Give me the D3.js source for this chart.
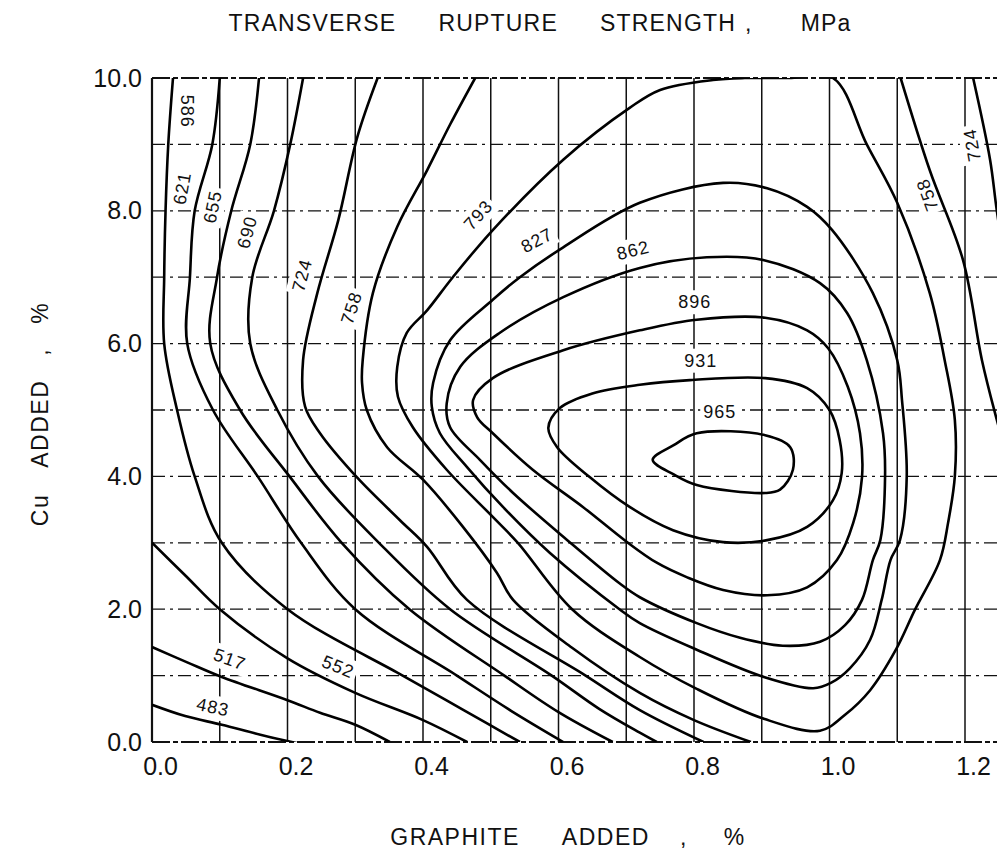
<!DOCTYPE html>
<html>
<head>
<meta charset="utf-8">
<script src="https://cdn.jsdelivr.net/npm/d3@7"></script>
<style>
  html, body { margin: 0; padding: 0; background: #fff; }
  svg { display: block; }
</style>
</head>
<body>
<div id="chart"></div>
<script>
// iso-strength lines, [graphite %, Cu %]
const c483 = [[0, 0.56], [0.049, 0.39], [0.103, 0.26], [0.16, 0.11], [0.215, -0.02]];
const c517 = [[0, 1.43], [0.052, 1.2], [0.103, 0.98], [0.2, 0.63], [0.248, 0.44], [0.3, 0.26], [0.351, 0]];
const c552 = [[0, 3.0], [0.05, 2.5], [0.1, 2.0], [0.2, 1.26], [0.3, 0.74], [0.4, 0.33], [0.465, 0]];
const c586 = [[0.031, 10], [0.024, 9], [0.02, 8], [0.018, 7], [0.018, 6], [0.037, 5], [0.063, 4], [0.103, 3], [0.2, 2], [0.37, 1], [0.46, 0.48], [0.543, 0]];
const c621 = [[0.1, 10], [0.089, 9], [0.063, 8], [0.056, 7], [0.052, 6], [0.09, 5], [0.156, 4], [0.22, 3], [0.3, 2], [0.45, 1], [0.53, 0.47], [0.607, 0]];
const c655 = [[0.158, 10], [0.145, 9], [0.117, 8], [0.096, 7], [0.086, 6], [0.13, 5], [0.203, 4], [0.28, 3], [0.38, 2], [0.52, 1], [0.6, 0.45], [0.68, 0]];
const c690 = [[0.223, 10], [0.204, 9], [0.18, 8], [0.148, 7], [0.145, 6], [0.185, 5], [0.245, 4], [0.335, 3], [0.44, 2], [0.59, 1], [0.66, 0.5], [0.72, 0.14], [0.745, 0]];
const c724 = [[0.333, 10], [0.303, 9.11], [0.275, 7.86], [0.244, 6.76], [0.223, 5.75], [0.226, 5.05], [0.248, 4.65], [0.303, 3.98], [0.366, 3.34], [0.406, 2.94], [0.465, 2.14], [0.64, 1], [0.72, 0.48], [0.814, 0]];
const c758 = [[0.477, 10], [0.44, 9.3], [0.406, 8.61], [0.362, 7.76], [0.326, 6.76], [0.311, 5.75], [0.31, 5.41], [0.317, 5.0], [0.347, 4.44], [0.4, 3.95], [0.459, 3.24], [0.509, 2.55], [0.533, 2.14], [0.62, 1.42], [0.72, 0.74], [0.8, 0.33], [0.884, 0]];
const c758r = [[1.105, 10], [1.148, 8.61], [1.197, 7.26], [1.225, 5.75], [1.247, 4.85], [1.27, 4.0]];
const c724r = [[1.212, 10], [1.237, 8.77], [1.247, 8.0], [1.27, 6.5]];
// closed loops round the peak
const c793 = [[0.875, 10], [0.828, 9.97], [0.75, 9.82], [0.705, 9.55], [0.607, 8.77], [0.503, 7.71], [0.444, 7.0], [0.406, 6.5], [0.376, 6.16], [0.362, 5.65], [0.363, 5.2], [0.385, 4.74], [0.435, 4.1], [0.503, 3.39], [0.54, 3.0], [0.62, 2.0], [0.72, 1.28], [0.804, 0.8], [0.903, 0.35], [0.986, 0.17], [1.023, 0.41], [1.06, 0.78], [1.098, 1.39], [1.126, 1.99], [1.163, 2.74], [1.175, 3.3], [1.185, 4.0], [1.185, 4.85], [1.17, 5.75], [1.148, 6.76], [1.1, 8.12], [1.055, 9.0], [1.005, 10.0], [0.94, 10]];
const c827 = [[0.72, 8.12], [0.843, 8.42], [0.908, 8.34], [0.967, 8.06], [1.004, 7.71], [1.064, 6.76], [1.1, 5.75], [1.107, 5.15], [1.114, 4.0], [1.104, 3.04], [1.09, 2.74], [1.077, 2.14], [1.06, 1.54], [1.03, 1.11], [1.002, 0.89], [0.976, 0.81], [0.903, 0.98], [0.804, 1.39], [0.72, 1.79], [0.69, 2.0], [0.587, 2.85], [0.518, 3.54], [0.465, 4.14], [0.425, 4.65], [0.413, 5.05], [0.415, 5.41], [0.44, 6.05], [0.503, 6.66], [0.543, 7.0], [0.607, 7.45]];
const c862 = [[0.72, 7.14], [0.819, 7.3], [0.902, 7.26], [0.986, 6.91], [1.026, 6.46], [1.055, 5.75], [1.079, 4.65], [1.082, 3.99], [1.075, 3.04], [1.064, 2.74], [1.048, 2.14], [1.023, 1.76], [0.986, 1.51], [0.931, 1.45], [0.868, 1.57], [0.804, 1.79], [0.72, 2.18], [0.69, 2.39], [0.613, 3.04], [0.533, 3.75], [0.484, 4.25], [0.44, 4.74], [0.435, 5.1], [0.455, 5.65], [0.513, 6.16], [0.607, 6.7]];
const c896 = [[0.72, 6.2], [0.804, 6.36], [0.905, 6.39], [0.967, 6.2], [0.998, 5.93], [1.027, 5.35], [1.045, 4.65], [1.048, 3.99], [1.035, 3.3], [1.011, 2.74], [0.967, 2.33], [0.908, 2.21], [0.843, 2.29], [0.79, 2.48], [0.745, 2.7], [0.7, 3.02], [0.636, 3.54], [0.562, 4.1], [0.503, 4.65], [0.48, 4.89], [0.474, 5.15], [0.503, 5.48], [0.607, 5.9]];
const c931 = [[0.72, 5.38], [0.794, 5.45], [0.905, 5.48], [0.967, 5.33], [1.0, 5.0], [1.015, 4.55], [1.018, 4.05], [1.005, 3.64], [0.967, 3.24], [0.908, 3.04], [0.843, 3.01], [0.769, 3.19], [0.705, 3.54], [0.646, 3.99], [0.598, 4.44], [0.585, 4.73], [0.602, 5.03], [0.65, 5.25]];
const c965 = [[0.739, 4.25], [0.77, 4.47], [0.804, 4.65], [0.905, 4.62], [0.942, 4.44], [0.946, 4.1], [0.927, 3.8], [0.905, 3.75], [0.804, 3.87], [0.77, 4.03]];

const openLines = [c483, c517, c552, c586, c621, c655, c690, c724, c758, c758r, c724r];
const closedLines = [c793, c827, c862, c896, c931, c965];

const labelText = ['586', '621', '655', '690', '724', '758', '793', '827', '862', '896', '931', '965', '758', '724', '552', '517', '483'];
const labelAt = [[0.053, 9.5], [0.044, 8.34], [0.089, 8.06], [0.14, 7.68], [0.221, 7.03], [0.294, 6.54], [0.481, 7.94], [0.568, 7.56], [0.71, 7.41], [0.801, 6.63], [0.81, 5.75], [0.838, 4.98], [1.144, 8.24], [1.21, 8.99], [0.275, 1.14], [0.115, 1.25], [0.09, 0.53]];
const labelTurn = [90, -80, -78, -75, -75, -72, -48, -28, -14, 0, 0, 0, -110, -100, 22, 20, 12];

const xTicks = [0, 0.2, 0.4, 0.6, 0.8, 1.0, 1.2];
const yTicks = [0, 2, 4, 6, 8, 10];
const xGrid = d3.range(0, 1.26, 0.1);
const yGrid = d3.range(0, 11, 1);

const titleWords = ['TRANSVERSE', 'RUPTURE', 'STRENGTH', ',', 'MPa'];
const titleGaps = [0, 42, 42, 9, 48];
const xTitleWords = ['GRAPHITE', 'ADDED', ',', '%'];
const xTitleGaps = [0, 42, 30, 36];

const W = 997, H = 852;
const FONT = '"Liberation Sans", Arial, sans-serif';

const x = d3.scaleLinear().domain([0, 1.2]).range([152, 965]);
const y = d3.scaleLinear().domain([0, 10]).range([742, 78]);
const xMax = 1.25;

const svg = d3.select('#chart').append('svg').attr('width', W).attr('height', H).style('background', '#fff');

svg.append('clipPath').attr('id', 'plot')
  .append('rect')
  .attr('x', x(0)).attr('y', y(10))
  .attr('width', x(xMax) - x(0)).attr('height', y(0) - y(10));

const gGrid = svg.append('g');
const gMask = svg.append('g');
const gLines = svg.append('g').attr('clip-path', 'url(#plot)');
const gLabels = svg.append('g');

// grid: solid verticals, dash-dot horizontals
gGrid.selectAll('line.v')
  .data(xGrid)
  .join('line')
  .attr('class', 'v')
  .attr('x1', (d) => x(d)).attr('x2', (d) => x(d))
  .attr('y1', y(10)).attr('y2', y(0))
  .attr('stroke', '#111')
  .attr('stroke-width', (d) => (d === 0 ? 2.2 : 1.5));

gGrid.selectAll('line.h')
  .data(yGrid)
  .join('line')
  .attr('class', 'h')
  .attr('x1', x(0)).attr('x2', x(xMax))
  .attr('y1', (d) => y(d)).attr('y2', (d) => y(d))
  .attr('stroke', '#111')
  .attr('stroke-width', (d) => (d === 0 || d === 10 ? 2 : 1.3))
  .attr('stroke-dasharray', (d) => (d === 0 || d === 10 ? '18,3,5,3' : '13,5,3,5'));

const line = d3.line().x((d) => x(d[0])).y((d) => y(d[1])).curve(d3.curveCatmullRom.alpha(0.5));
const loop = d3.line().x((d) => x(d[0])).y((d) => y(d[1])).curve(d3.curveCatmullRomClosed.alpha(0.5));

gLines.selectAll('path.open')
  .data(openLines)
  .join('path')
  .attr('class', 'open')
  .attr('d', line)
  .attr('fill', 'none')
  .attr('stroke', '#000')
  .attr('stroke-width', 2.6)
  .attr('stroke-linejoin', 'round');

gLines.selectAll('path.closed')
  .data(closedLines)
  .join('path')
  .attr('class', 'closed')
  .attr('d', loop)
  .attr('fill', 'none')
  .attr('stroke', '#000')
  .attr('stroke-width', 2.6)
  .attr('stroke-linejoin', 'round');

// contour labels, with a white patch that breaks the grid behind them
labelText.forEach((t, i) => {
  const [g, c] = labelAt[i];
  const tr = `translate(${x(g)},${y(c)}) rotate(${labelTurn[i]})`;
  const txt = gLabels.append('text')
    .attr('transform', tr)
    .attr('text-anchor', 'middle')
    .attr('dy', '0.36em')
    .attr('font-family', FONT)
    .attr('font-size', 18)
    .attr('letter-spacing', 1)
    .attr('fill', '#111')
    .text(t);
  const bb = txt.node().getBBox();
  gMask.append('rect')
    .attr('transform', tr)
    .attr('x', bb.x - 3).attr('y', bb.y - 2)
    .attr('width', bb.width + 6).attr('height', bb.height + 4)
    .attr('fill', '#fff');
});

// axes
const xAxis = svg.append('g')
  .attr('transform', `translate(0,${y(0)})`)
  .call(d3.axisBottom(x).tickValues(xTicks).tickFormat(d3.format('.1f')).tickSize(0).tickPadding(15));
xAxis.select('.domain').remove();
xAxis.selectAll('text')
  .attr('dx', 8)
  .attr('font-family', FONT)
  .attr('font-size', 25)
  .attr('fill', '#111');

const yAxis = svg.append('g')
  .attr('transform', `translate(${x(0)},0)`)
  .call(d3.axisLeft(y).tickValues(yTicks).tickFormat(d3.format('.1f')).tickSize(0).tickPadding(10));
yAxis.select('.domain').remove();
yAxis.selectAll('text')
  .attr('font-family', FONT)
  .attr('font-size', 25)
  .attr('fill', '#111');

// titles, words set apart as in the lettering
function spacedTitle(words, gaps, tx, ty, rot, spacing) {
  const t = svg.append('text')
    .attr('transform', `translate(${tx},${ty}) rotate(${rot})`)
    .attr('text-anchor', 'middle')
    .attr('font-family', FONT)
    .attr('font-size', 23)
    .attr('letter-spacing', spacing)
    .attr('fill', '#111');
  t.selectAll('tspan')
    .data(words)
    .join('tspan')
    .attr('dx', (d, i) => gaps[i])
    .text((d) => d);
}

spacedTitle(titleWords, titleGaps, 540, 31, 0, 1.2);
spacedTitle(xTitleWords, xTitleGaps, 568, 845, 0, 1.5);
spacedTitle(['Cu', 'ADDED', ',', '%'], [0, 26, 24, 24], 48, 414, -90, 1.5);
</script>
</body>
</html>
